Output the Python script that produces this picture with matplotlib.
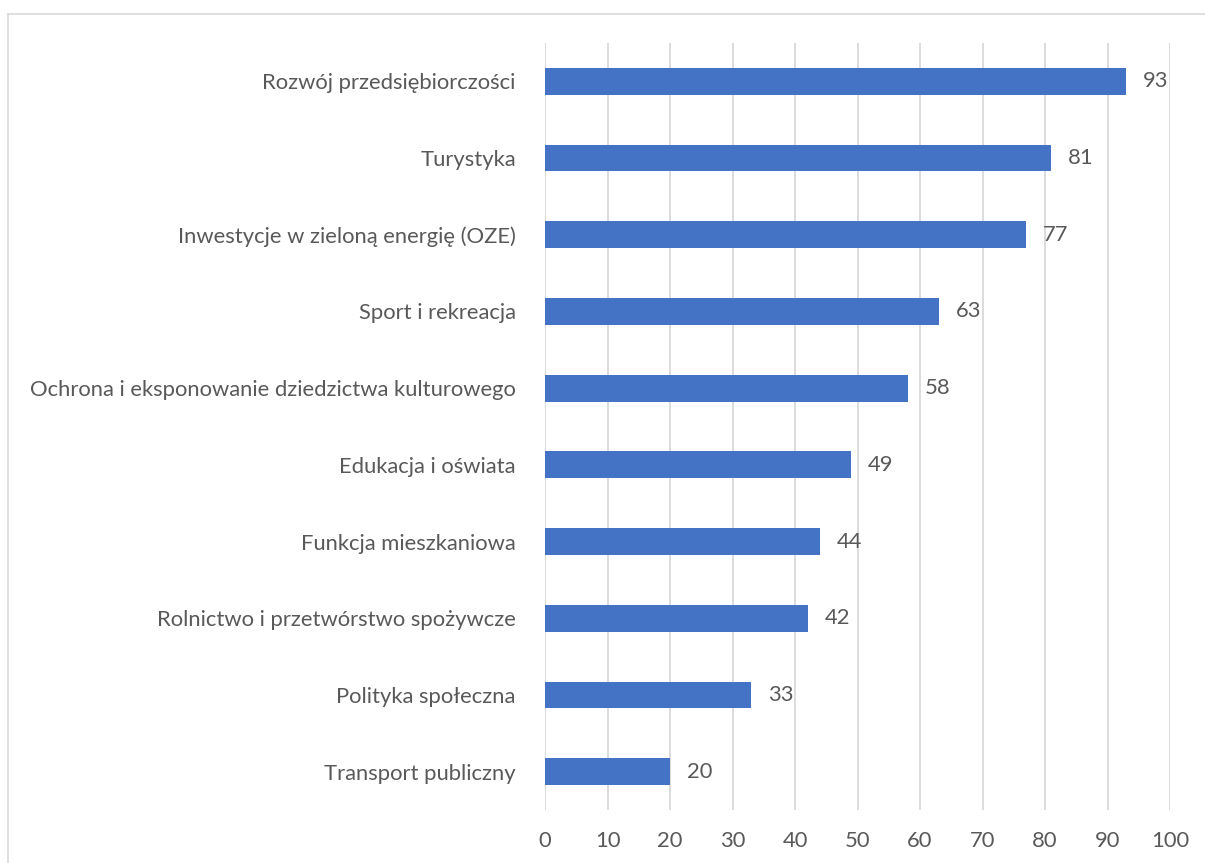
import matplotlib.pyplot as plt
from matplotlib.lines import Line2D

categories = [
    'Rozwój przedsiębiorczości',
    'Turystyka',
    'Inwestycje w zieloną energię (OZE)',
    'Sport i rekreacja',
    'Ochrona i eksponowanie dziedzictwa kulturowego',
    'Edukacja i oświata',
    'Funkcja mieszkaniowa',
    'Rolnictwo i przetwórstwo spożywcze',
    'Polityka społeczna',
    'Transport publiczny',
]
values = [93, 81, 77, 63, 58, 49, 44, 42, 33, 20]
x_ticks = [0, 10, 20, 30, 40, 50, 60, 70, 80, 90, 100]

plt.rcParams['font.family'] = ['Lato', 'DejaVu Sans']
text_color = '#595959'
bar_color = '#4472C4'
fs = 15.8

fig = plt.figure(figsize=(12.05, 8.63), dpi=100)
ax = fig.add_axes([545 / 1205, 1 - 810 / 863, 625 / 1205, 767 / 863])

pos = list(range(len(categories)))
bars = ax.barh(pos, values, height=0.35, color=bar_color, zorder=3)
ax.set_ylim(len(categories) - 0.5, -0.5)
ax.set_xlim(0, 100)
ax.set_yticks(pos)
ax.set_yticklabels(categories)
ax.set_xticks(x_ticks)

for b, v in zip(bars, values):
    ax.text(b.get_width() + 2.7, b.get_y() + b.get_height() / 2, str(v),
            va='center', ha='left', fontsize=fs, color=text_color)

ax.grid(axis='x', color='#d9d9d9', linewidth=1.3, zorder=0)
for s in ax.spines.values():
    s.set_visible(False)
ax.tick_params(axis='both', length=0, labelsize=fs, labelcolor=text_color)
ax.tick_params(axis='y', pad=21)
ax.tick_params(axis='x', pad=15)

# chart area border (cropped on right and bottom)
fig.add_artist(Line2D([8 / 1205, 8 / 1205], [0, 1 - 14 / 863],
                      transform=fig.transFigure, color='#d9d9d9', lw=1.2))
fig.add_artist(Line2D([8 / 1205, 1], [1 - 14 / 863, 1 - 14 / 863],
                      transform=fig.transFigure, color='#d9d9d9', lw=1.2))

fig.savefig('out.png', dpi=100)
